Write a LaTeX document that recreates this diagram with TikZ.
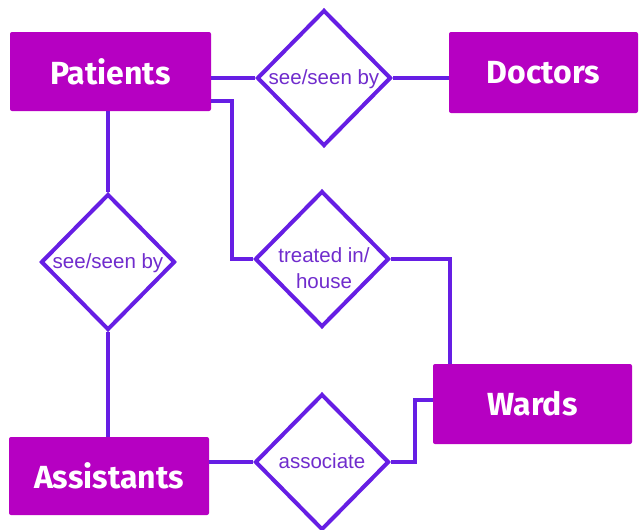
\documentclass[tikz,border=0pt]{standalone}
\usepackage{fontspec}
\setmainfont{Liberation Sans}
\newfontfamily\entfont{Fira Sans}
\usetikzlibrary{shapes.geometric}
\definecolor{boxfill}{RGB}{182,0,194}
\definecolor{lnc}{RGB}{102,30,228}
\definecolor{rtxt}{RGB}{112,44,205}
\begin{document}
\begin{tikzpicture}[x=1pt,y=-1pt,
  entity/.style={fill=boxfill, rounded corners=2pt, text=white, inner sep=0pt,
    font=\entfont\bfseries\fontsize{32}{38}\selectfont},
  diam/.style={diamond, draw=lnc, line width=4pt, fill=white, inner sep=0pt,
    minimum width=134pt, minimum height=136pt},
  rtext/.style={text=rtxt, font=\fontsize{20.5}{26}\selectfont, align=center, inner sep=0pt},
  link/.style={draw=lnc, line width=4pt}]
\useasboundingbox (0,0) rectangle (640,530);
% entities
\node[entity, minimum width=201pt, minimum height=79pt] (pat) at (110.5,71.5) {Patients};
\node[entity, minimum width=189pt, minimum height=81pt] (doc) at (543.5,72.5) {Doctors};
\node[entity, minimum width=199pt, minimum height=80pt] (war) at (532.5,404) {Wards};
\node[entity, minimum width=200pt, minimum height=78pt] (ast) at (109,476) {Assistants};
% relationships
\node[diam] (d1) at (324,78) {};
\node[rtext] (t1) at (324,79) {see/seen by};
\node[diam] (d2) at (108,262) {};
\node[rtext] (t2) at (108,263) {see/seen by};
\node[diam] (d3) at (322,259) {};
\node[rtext] (t3) at (324,268) {treated in/\\house};
\node[diam] (d4) at (322,462) {};
\node[rtext] (t4) at (322,461) {associate};
% connectors
\draw[link] (pat.east |- d1.west) -- (d1.west);
\draw[link] (d1.east) -- (d1.east -| doc.west);
\draw[link] (pat.south -| d2.north) -- (d2.north);
\draw[link] (d2.south) -- (d2.south |- ast.north);
\draw[link] ([yshift=-29.5pt]pat.east) -| ([xshift=-21pt]d3.west) -- (d3.west);
\draw[link] (d3.east) -| ([xshift=-82.5pt]war.north);
\draw[link] (ast.east |- d4.west) -- (d4.west);
\draw[link] (d4.east) -| ([xshift=-18pt,yshift=4pt]war.west) -- ([yshift=4pt]war.west);
\end{tikzpicture}
\end{document}
